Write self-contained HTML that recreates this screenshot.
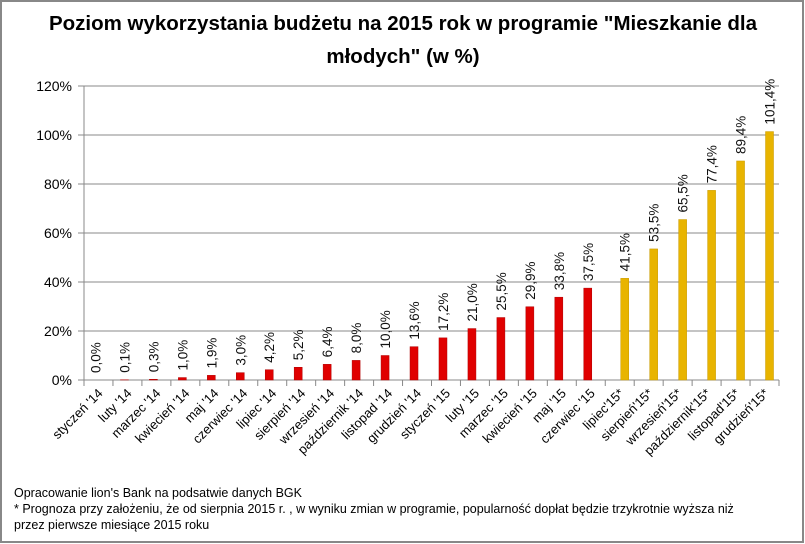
<!DOCTYPE html>
<html><head><meta charset="utf-8"><style>
body{margin:0;background:#fff;font-family:"Liberation Sans",sans-serif}
#wrap{position:relative;width:805px;height:544px;overflow:hidden}
</style></head><body>
<div id="wrap">
<svg id="chart" width="805" height="544" xmlns="http://www.w3.org/2000/svg">
<rect x="1" y="1" width="802" height="541" fill="#fff" stroke="#888" stroke-width="2"/>
<text x="403" y="30" text-anchor="middle" font-size="20.5" font-weight="bold" fill="#000">Poziom wykorzystania budżetu na 2015 rok w programie "Mieszkanie dla</text>
<text x="403" y="63" text-anchor="middle" font-size="20.5" font-weight="bold" fill="#000">młodych" (w %)</text>
<g id="grid"></g><g id="bars"></g><g id="labels"></g>
<text x="14" y="497" font-size="12.5" fill="#000">Opracowanie lion's Bank na podsatwie danych BGK</text>
<text x="14" y="513" font-size="12.5" fill="#000">* Prognoza przy założeniu, że od sierpnia 2015 r. , w wyniku zmian w programie, popularność dopłat będzie trzykrotnie wyższa niż</text>
<text x="14" y="529" font-size="12.5" fill="#000">przez pierwsze miesiące 2015 roku</text>
</svg>
</div>
<script>
const categories=["styczeń '14","luty '14","marzec '14","kwiecień '14","maj '14","czerwiec '14","lipiec '14","sierpień '14","wrzesień '14","październik '14","listopad '14","grudzień '14","styczeń '15","luty '15","marzec '15","kwiecień '15","maj '15","czerwiec '15","lipiec'15*","sierpień'15*","wrzesień'15*","październik'15*","listopad'15*","grudzień'15*"];
const values=[0.0,0.1,0.3,1.0,1.9,3.0,4.2,5.2,6.4,8.0,10.0,13.6,17.2,21.0,25.5,29.9,33.8,37.5,41.5,53.5,65.5,77.4,89.4,101.4];
const forecast=[0,0,0,0,0,0,0,0,0,0,0,0,0,0,0,0,0,0,1,1,1,1,1,1];
const yTicks=[0,20,40,60,80,100,120];
const NS="http://www.w3.org/2000/svg";
const x0=84,x1=779,y0=380,yTop=86,ymax=120;
const bw=(x1-x0)/categories.length;
const yS=v=>y0-(v/ymax)*(y0-yTop);
const xC=i=>x0+bw*(i+0.5);
function mk(t,a,p){const e=document.createElementNS(NS,t);for(const k in a)e.setAttribute(k,a[k]);p.appendChild(e);return e;}
const grid=document.getElementById('grid'),bars=document.getElementById('bars'),labels=document.getElementById('labels');
yTicks.forEach(t=>{
 const l=mk('line',{x1:x0-6,x2:x1,y1:yS(t),y2:yS(t),stroke:'#888','stroke-width':1},grid);
 
 
 const tx=mk('text',{x:x0-12,y:yS(t)+5,'text-anchor':'end','font-size':14,fill:'#000'},grid);
 tx.textContent=t+'%';
 
 
});
const ax=mk('line',{x1:x0,x2:x0,y1:yTop,y2:y0+6,stroke:'#888'},grid);


for(let i=0;i<=categories.length;i++){
 const tk=mk('line',{x1:x0+bw*i,x2:x0+bw*i,y1:y0,y2:y0+6,stroke:'#888'},grid);
 
 
}
categories.forEach((c,i)=>{
 const v=values[i],f=forecast[i];
 const cx=xC(i)+(f?5:-3),w=8;
 const y=yS(v);
 const r=mk('rect',{x:cx-w/2,y:y,width:w,height:Math.max(0,y0-y),fill:f?'#e8b400':'#e00000',stroke:f?'#c99a00':'#b00000','stroke-width':0.5},bars);
 
 
 const vt=mk('text',{transform:`translate(${cx+5},${y-7}) rotate(-90)`,'font-size':13.5,fill:'#111'},labels);
 vt.textContent=v.toFixed(1).replace('.',',')+'%';
 
 
 const ct=mk('text',{transform:`translate(${xC(i)+5},${y0+14}) rotate(-45)`,'text-anchor':'end','font-size':13,fill:'#000'},labels);
 ct.textContent=c;
 
 
});
</script>
</body></html>
